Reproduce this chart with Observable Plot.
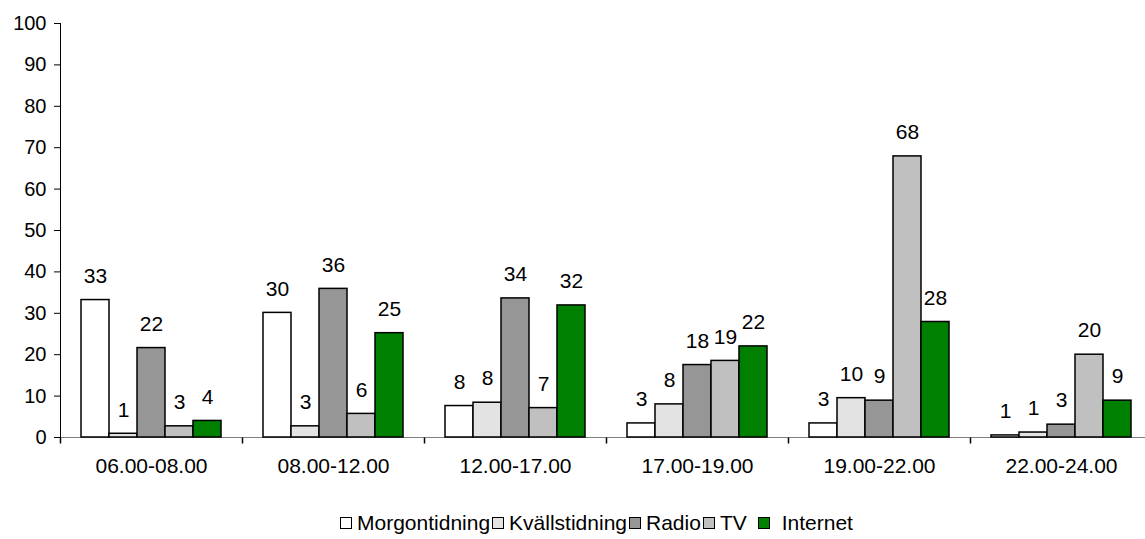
<!DOCTYPE html>
<html>
<head>
<meta charset="utf-8">
<script src="https://cdn.jsdelivr.net/npm/d3@7"></script>
<script src="https://cdn.jsdelivr.net/npm/@observablehq/plot@0.6"></script>
<style>
  html, body { margin: 0; padding: 0; background: #fff; overflow: hidden; }
  #wrap { position: relative; width: 1145px; height: 539px; font-family: "Liberation Sans", Arial, sans-serif; color: #000; }
  #legend { position: absolute; left: 340px; top: 511px; display: flex; align-items: center; font-size: 21px; line-height: 24px; white-space: pre; }
  .sw { width: 10px; height: 10px; border: 1px solid #000; box-sizing: content-box; margin-right: 5px; }
  .lb { margin-right: 2px; }
</style>
</head>
<body>
<div id="wrap"><div id="chart"></div><div id="legend"></div></div>
<script>
const periods = ["06.00-08.00", "08.00-12.00", "12.00-17.00", "17.00-19.00", "19.00-22.00", "22.00-24.00"];
const media = ["Morgontidning", "Kvällstidning", "Radio", "TV", "Internet"];
const morgontidning = [33.2, 30.1, 7.6, 3.4, 3.4, 0.5];
const kvallstidning = [0.9, 2.7, 8.4, 8.0, 9.5, 1.2];
const radio = [21.6, 35.9, 33.6, 17.5, 8.9, 3.1];
const tv = [2.7, 5.7, 7.1, 18.5, 67.9, 20.0];
const internet = [4.0, 25.2, 31.9, 22.0, 27.9, 8.9];
const colors = ["#ffffff", "#e3e3e3", "#969696", "#c0c0c0", "#008000"];
const yTicks = [0, 10, 20, 30, 40, 50, 60, 70, 80, 90, 100];

const series = [morgontidning, kvallstidning, radio, tv, internet];
const data = [];
periods.forEach((p, i) => media.forEach((m, j) => data.push({period: p, media: m, value: series[j][i]})));

const tickSymbol = {draw(ctx) { ctx.moveTo(0, 0); ctx.lineTo(0, 6); }};

const chart = Plot.plot({
  width: 1145,
  height: 495,
  marginLeft: 59,
  marginRight: -7,
  marginTop: 23,
  marginBottom: 58,
  style: {fontFamily: "'Liberation Sans', Arial, sans-serif", fontSize: "20px", color: "#000", background: "#fff"},
  fx: {domain: periods, padding: 0, label: null},
  x: {domain: media, paddingInner: 0, paddingOuter: 0.71, axis: null},
  y: {domain: [0, 100], label: null},
  color: {domain: media, range: colors},
  marks: [
    Plot.ruleY([0], {stroke: "#808080", strokeWidth: 1.2}),
    Plot.axisY({ticks: yTicks, tickSize: 6, tickPadding: 8, fontSize: 20, label: null}),
    Plot.axisFx({anchor: "bottom", tickSize: 0, tickPadding: 21, fontSize: 21, label: null}),
    Plot.frame({anchor: "left", facetAnchor: "left", stroke: "#000"}),
    Plot.dot(periods, {fx: d => d, frameAnchor: "bottom-left", symbol: tickSymbol, stroke: "#000", fill: "none"}),
    Plot.barY(data, {fx: "period", x: "media", y: "value", fill: "media", stroke: "#000", strokeWidth: 1.5}),
    Plot.text(data, {fx: "period", x: "media", y: "value", text: d => String(Math.round(d.value)), dy: -24, fontSize: 21, fill: "#000"})
  ]
});
document.getElementById("chart").appendChild(chart);

const legend = document.getElementById("legend");
media.forEach((m, j) => {
  const sw = document.createElement("span");
  sw.className = "sw";
  sw.style.background = colors[j];
  if (m === "Internet") sw.style.marginRight = "12px";
  const lb = document.createElement("span");
  lb.className = "lb";
  lb.textContent = m;
  if (m === "TV") lb.style.marginRight = "11px";
  legend.appendChild(sw);
  legend.appendChild(lb);
});
</script>
</body>
</html>
